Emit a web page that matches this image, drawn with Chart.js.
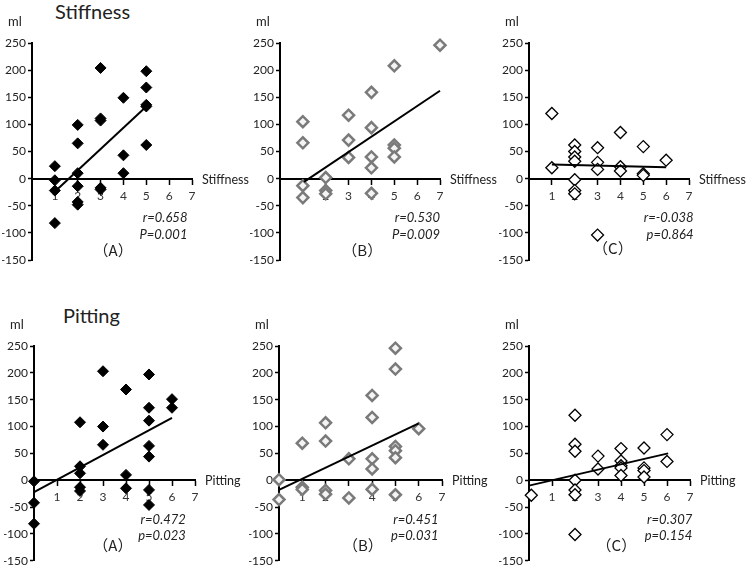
<!DOCTYPE html>
<html lang="en">
<head>
  <meta charset="UTF-8">
  <title>Stiffness / Pitting</title>
  <script src="https://cdn.jsdelivr.net/npm/chart.js"></script>
  <style>
    body {
      margin: 0;
      width: 746px;
      height: 570px;
      overflow: hidden;
      background: #FFFFFF;
      font-family: Lato, "Open Sans", sans-serif;
      color: #222;
    }
    .panel {
      position: absolute;
    }
    .title {
      position: absolute;
      font-size: 20px;
      line-height: 20px;
      color: #222;
    }
  </style>
</head>
<body>

<div class="title" style="left:55px; top:1px;">Stiffness</div>
<div class="title" style="left:63px; top:305px;">Pitting</div>

<canvas class="panel" id="c1" width="262" height="290" style="left:0px; top:0px;"></canvas>
<canvas class="panel" id="c2" width="262" height="290" style="left:245px; top:0px;"></canvas>
<canvas class="panel" id="c3" width="262" height="290" style="left:490px; top:0px;"></canvas>
<canvas class="panel" id="c4" width="262" height="280" style="left:0px; top:290px;"></canvas>
<canvas class="panel" id="c5" width="262" height="280" style="left:245px; top:290px;"></canvas>
<canvas class="panel" id="c6" width="262" height="280" style="left:490px; top:290px;"></canvas>

<script>
  // ---- datos ----
  const yTicks = [-150, -100, -50, 0, 50, 100, 150, 200, 250];
  const xTicks = [1, 2, 3, 4, 5, 6, 7];

  // Stiffness (A)
  const stiffAx = [1, 1, 1, 1, 2, 2, 2, 2, 2, 2, 3, 3, 3, 3, 3, 4, 4, 4, 5, 5, 5, 5, 5];
  const stiffAy = [23, -3, -22, -82, 99, 65, 10, -14, -43, -48, 204, 111, 107, -17, -20, 149, 43, 10, 198, 168, 136, 133, 62];
  const stiffAfitX = [1.1, 5];
  const stiffAfitY = [-20, 133];

  // Stiffness (B)
  const stiffBx = [1, 1, 1, 1, 2, 2, 2, 3, 3, 3, 4, 4, 4, 4, 4, 5, 5, 5, 5, 7];
  const stiffBy = [105, 66, -13, -35, 2, -22, -28, 117, 71, 39, 159, 94, 40, 20, -27, 208, 62, 56, 40, 246];
  const stiffBfitX = [1.05, 7];
  const stiffBfitY = [-6, 162];

  // Stiffness (C)
  const stiffCx = [1, 1, 2, 2, 2, 2, 2, 2, 2, 3, 3, 3, 3, 4, 4, 4, 5, 5, 5, 6];
  const stiffCy = [120, 20, 62, 50, 40, 32, -2, -22, -28, 57, 30, 17, -104, 85, 22, 14, 59, 9, 6, 34];
  const stiffCfitX = [1, 6];
  const stiffCfitY = [26, 21];

  // Pitting (A)
  const pitAx = [0, 0, 0, 2, 2, 2, 2, 2, 3, 3, 3, 4, 4, 4, 5, 5, 5, 5, 5, 5, 5, 6, 6];
  const pitAy = [-2, -42, -81, 108, 26, 13, -13, -20, 203, 100, 66, 169, 10, -15, 197, 135, 111, 64, 44, -18, -46, 151, 135];
  const pitAfitX = [0, 6];
  const pitAfitY = [-22, 116];

  // Pitting (B)
  const pitBx = [0, 0, 1, 1, 1, 2, 2, 2, 2, 3, 3, 4, 4, 4, 4, 4, 5, 5, 5, 5, 5, 5, 6];
  const pitBy = [1, -36, 69, -13, -17, 107, 73, -19, -26, 40, -33, 158, 117, 40, 21, -17, 246, 207, 63, 55, 42, -27, 96];
  const pitBfitX = [0, 6];
  const pitBfitY = [-18, 106];

  // Pitting (C)
  const pitCx = [0.1, 2, 2, 2, 2, 2, 2, 2, 3, 3, 4, 4, 4, 4, 4, 5, 5, 5, 5, 6, 6];
  const pitCy = [-28, 121, 67, 54, 0, -18, -27, -101, 45, 21, 59, 36, 27, 23, 9, 60, 23, 18, 6, 85, 35];
  const pitCfitX = [0, 6.05];
  const pitCfitY = [-10, 50];

  const statsText = [
    ['r=0.658', 'P=0.001'],
    ['r=0.530', 'P=0.009'],
    ['r=-0.038', 'p=0.864'],
    ['r=0.472', 'p=0.023'],
    ['r=0.451', 'p=0.031'],
    ['r=0.307', 'p=0.154']
  ];
  const tags = ['（A）', '（B）', '（C）', '（A）', '（B）', '（C）'];

  const FONT = 'Lato, "Open Sans", sans-serif';

  // estilos de marcadores
  const markA = { pointStyle: 'rectRot', radius: 5.5, backgroundColor: '#000', borderColor: '#000', borderWidth: 1 };
  const markB = { pointStyle: 'rectRot', radius: 5.5, backgroundColor: '#f4f4f4', borderColor: '#7a7a7a', borderWidth: 2.5 };
  const markC = { pointStyle: 'rectRot', radius: 6, backgroundColor: '#fff', borderColor: '#000', borderWidth: 1.3 };

  // textos dentro de cada panel
  const panelText = {
    id: 'panelText',
    afterDatasetsDraw(chart) {
      const o = chart.options.plugins.panelText;
      if (!o) return;
      const ctx = chart.ctx;
      const a = chart.chartArea;
      const x = chart.scales.x, y = chart.scales.y;
      ctx.save();
      ctx.fillStyle = '#222';
      ctx.textBaseline = 'middle';

      ctx.font = '13px ' + FONT;
      ctx.textAlign = 'center';
      ctx.fillText('ml', a.left - 17, a.top - 21);

      ctx.font = '12.5px ' + FONT;
      ctx.textAlign = 'left';
      ctx.fillText(o.axisName, a.right + 10, y.getPixelForValue(0) + 1);

      ctx.font = 'italic 13px ' + FONT;
      ctx.textAlign = 'right';
      ctx.fillText(o.stats[0], x.getPixelForValue(o.statX), y.getPixelForValue(-73));
      ctx.fillText(o.stats[1], x.getPixelForValue(o.statX), y.getPixelForValue(-103));

      ctx.font = '15px "Noto Sans CJK JP", ' + FONT;
      ctx.textAlign = 'center';
      ctx.fillText(o.tag, x.getPixelForValue(o.tagX), y.getPixelForValue(o.tagY));
      ctx.restore();
    }
  };

  function toPoints(xs, ys) {
    return xs.map((v, i) => ({ x: v, y: ys[i] }));
  }

  function makePanel(id, xs, ys, fitX, fitY, mark, opts) {
    new Chart(document.getElementById(id), {
      type: 'scatter',
      data: {
        datasets: [
          Object.assign({
            data: toPoints(xs, ys),
            clip: false,
            order: 1
          }, mark),
          {
            data: toPoints(fitX, fitY),
            showLine: true,
            borderColor: '#000',
            borderWidth: 2,
            pointRadius: 0,
            clip: false,
            order: 0
          }
        ]
      },
      options: {
        responsive: false,
        animation: false,
        events: [],
        layout: { padding: opts.pad },
        scales: {
          x: {
            type: 'linear',
            position: { y: 0 },
            min: 0,
            max: 7,
            afterBuildTicks: s => { s.ticks = xTicks.map(v => ({ value: v })); },
            ticks: {
              font: { family: FONT, size: 12 },
              color: '#333',
              padding: 5,
              maxRotation: 0
            },
            grid: { drawOnChartArea: false, drawTicks: true, tickLength: 5, tickColor: '#000', tickWidth: 1.5 },
            border: { display: true, color: '#000', width: 2 }
          },
          y: {
            type: 'linear',
            min: -150,
            max: 250,
            afterBuildTicks: s => { s.ticks = yTicks.map(v => ({ value: v })); },
            afterFit: s => { s.width = 30; },
            ticks: {
              font: { family: FONT, size: 12 },
              color: '#222',
              padding: 2
            },
            grid: { drawOnChartArea: false, drawTicks: true, tickLength: 4, tickColor: '#000', tickWidth: 1.5 },
            border: { display: true, color: '#000', width: 2 }
          }
        },
        plugins: {
          legend: { display: false },
          tooltip: { enabled: false },
          panelText: opts.text
        }
      },
      plugins: [panelText]
    });
  }

  const topPad = (l, r) => ({ left: l, right: r, top: 43, bottom: 30 });
  const botPad = (l, r) => ({ left: l, right: r, top: 56, bottom: 8 });

  makePanel('c1', stiffAx, stiffAy, stiffAfitX, stiffAfitY, markA, {
    pad: topPad(2, 70),
    text: { axisName: 'Stiffness', stats: statsText[0], statX: 6.8, tag: tags[0], tagX: 3.55, tagY: -133 }
  });
  makePanel('c2', stiffBx, stiffBy, stiffBfitX, stiffBfitY, markB, {
    pad: topPad(5, 67),
    text: { axisName: 'Stiffness', stats: statsText[1], statX: 7.0, tag: tags[1], tagX: 3.6, tagY: -133 }
  });
  makePanel('c3', stiffCx, stiffCy, stiffCfitX, stiffCfitY, markC, {
    pad: topPad(9, 63),
    text: { axisName: 'Stiffness', stats: statsText[2], statX: 7.2, tag: tags[2], tagX: 3.67, tagY: -128 }
  });
  makePanel('c4', pitAx, pitAy, pitAfitX, pitAfitY, markA, {
    pad: botPad(4, 67),
    text: { axisName: 'Pitting', stats: statsText[3], statX: 6.6, tag: tags[3], tagX: 3.43, tagY: -122 }
  });
  makePanel('c5', pitBx, pitBy, pitBfitX, pitBfitY, markB, {
    pad: botPad(4, 65),
    text: { axisName: 'Pitting', stats: statsText[4], statX: 6.85, tag: tags[4], tagX: 3.6, tagY: -122 }
  });
  makePanel('c6', pitCx, pitCy, pitCfitX, pitCfitY, markC, {
    pad: botPad(9, 62),
    text: { axisName: 'Pitting', stats: statsText[5], statX: 7.1, tag: tags[5], tagX: 3.8, tagY: -122 }
  });
</script>

</body>
</html>
